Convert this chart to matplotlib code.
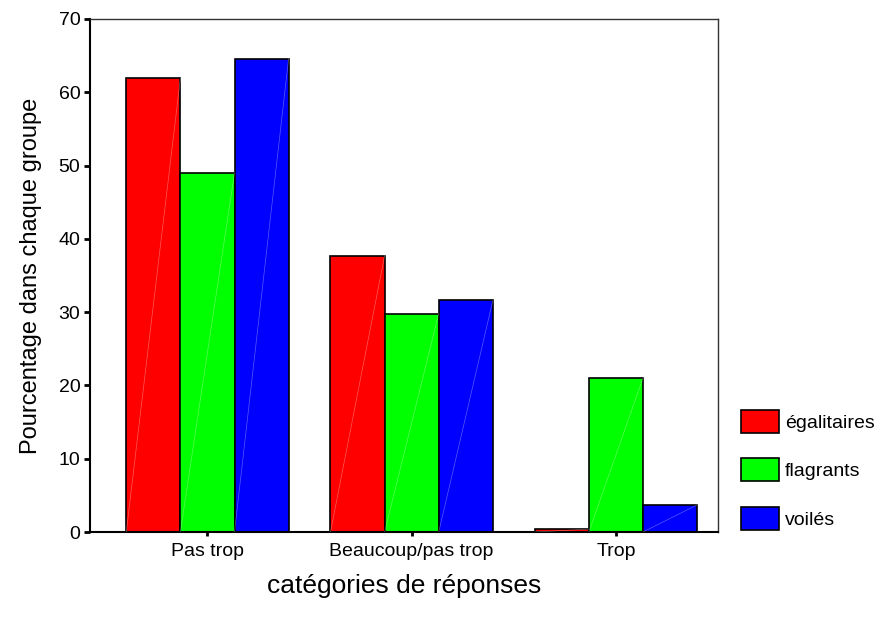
import numpy as np
import matplotlib
matplotlib.use("Agg")
import matplotlib.pyplot as plt

plt.rcParams['font.family'] = ['Liberation Sans', 'DejaVu Sans']

# Data
categories = ["Pas trop", "Beaucoup/pas trop", "Trop"]
groups = ["égalitaires", "flagrants", "voilés"]
egalitaires = [61.9, 37.7, 0.4]
flagrants = [49.0, 29.8, 21.0]
voiles = [64.6, 31.6, 3.7]
colors = ["#ff0000", "#00ff00", "#0000ff"]

fig = plt.figure(figsize=(8.86, 6.24), dpi=100)
ax = fig.add_axes([0.1016, 0.1474, 0.7088, 0.8222])

x = np.arange(len(categories))
width = 0.265
series = [egalitaires, flagrants, voiles]
for i, (vals, col, name) in enumerate(zip(series, colors, groups)):
    bars = ax.bar(x + (i - 1) * width, vals, width, color=col, edgecolor="black",
                  linewidth=1.2, label=name, zorder=2)
    # faint diagonal artefact across each bar
    for b in bars:
        x0, y0 = b.get_x(), b.get_y()
        ax.plot([x0, x0 + b.get_width()], [y0, y0 + b.get_height()],
                color="white", lw=0.5, alpha=0.35, zorder=3)

ax.set_xlim(-0.575, 2.5)
ax.set_ylim(0, 70)
ax.set_yticks(range(0, 71, 10))
ax.set_xticks(x)
ax.set_xticklabels(categories, fontsize=14)
ax.tick_params(axis="y", labelsize=14, length=4, width=2, direction="out", pad=3)
ax.tick_params(axis="x", length=3, width=2, direction="out", pad=5)
for s in ["left", "bottom"]:
    ax.spines[s].set_linewidth(1.5)
for s in ["top", "right"]:
    ax.spines[s].set_linewidth(1.0)
    ax.spines[s].set_color("#333333")

ax.set_ylabel("Pourcentage dans chaque groupe", fontsize=17, labelpad=12)
ax.set_xlabel("catégories de réponses", fontsize=19, labelpad=10)

leg = fig.legend(loc="upper left", bbox_to_anchor=(0.828, 0.356), frameon=False,
                 fontsize=14, handlelength=1.95, handleheight=1.46,
                 labelspacing=1.3, handletextpad=0.3, borderaxespad=0)
for h in leg.legend_handles:
    h.set_linewidth(1.2)

fig.savefig("out.png", dpi=100)
